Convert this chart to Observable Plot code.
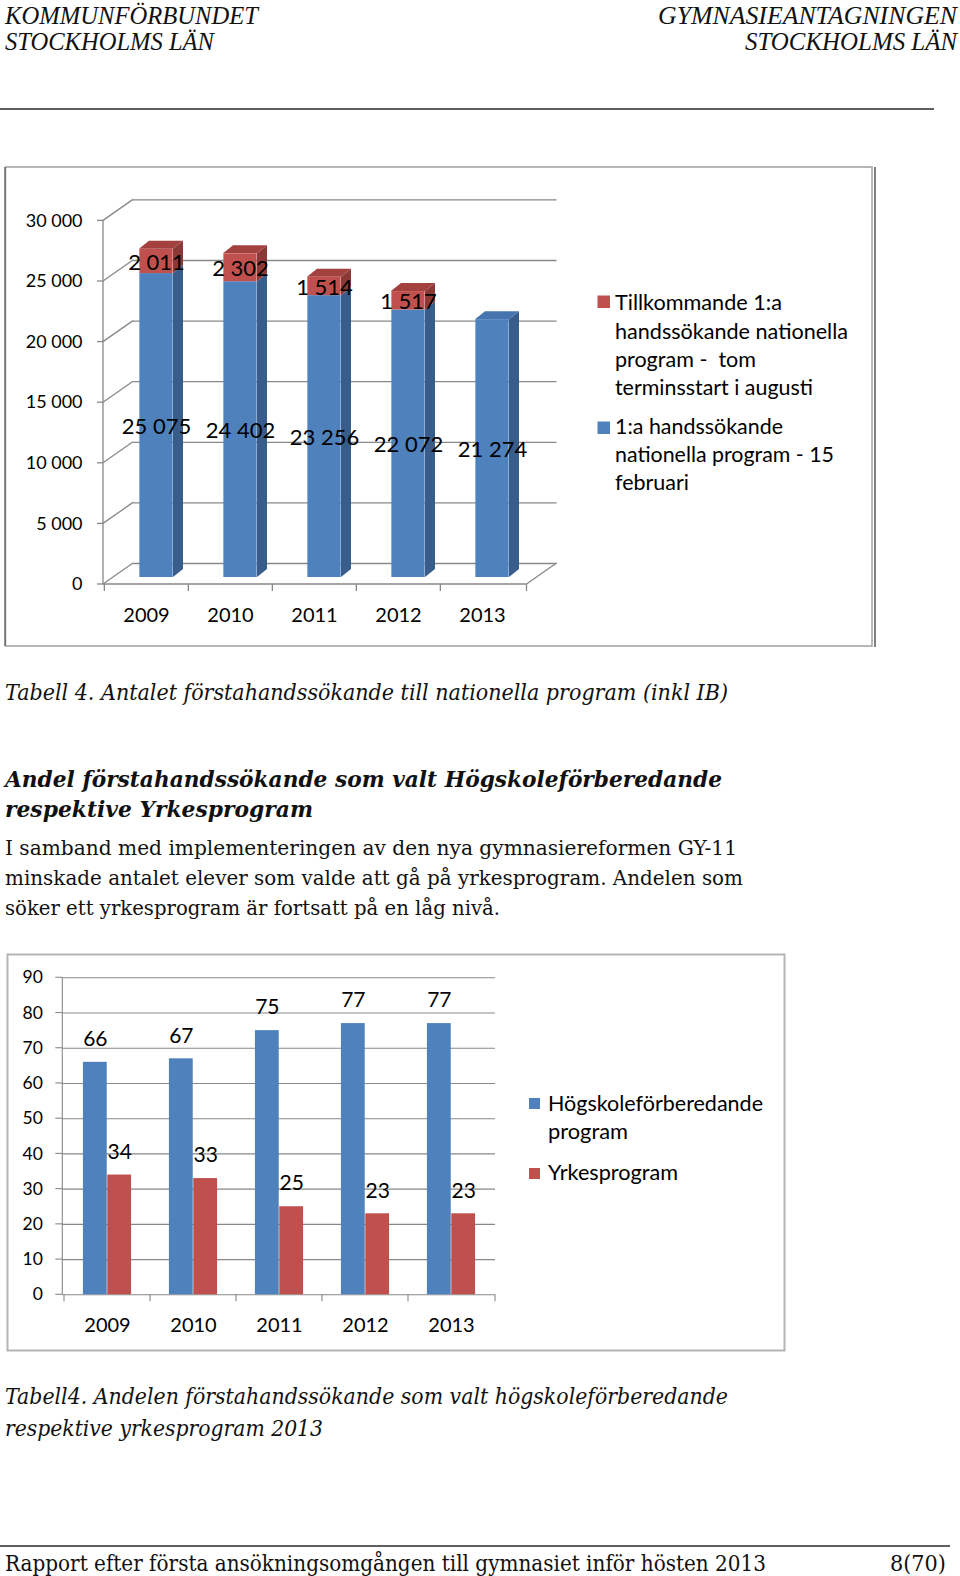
<!DOCTYPE html>
<html><head><meta charset="utf-8">
<script src="https://cdn.jsdelivr.net/npm/d3@7"></script>
<script src="https://cdn.jsdelivr.net/npm/@observablehq/plot@0.6"></script>
<style>
html,body{margin:0;padding:0;background:#fff;}
#page{position:relative;width:960px;height:1576px;overflow:hidden;background:#fff;}
.plotwrap{position:absolute;}
#overlay{position:absolute;left:0;top:0;pointer-events:none;}
</style></head><body><div id="page"></div>
<script>
// ---------- data ----------
const years = [2009, 2010, 2011, 2012, 2013];
const applicantsFeb15 = [25075, 24402, 23256, 22072, 21274];
const additionalAugust = [2011, 2302, 1514, 1517, null];
const seriesNames1 = ["1:a handssökande nationella program - 15 februari",
                      "Tillkommande 1:a handssökande nationella program -  tom terminsstart i augusti"];
const yTicks1 = [0, 5000, 10000, 15000, 20000, 25000, 30000];

const higherEdShare = [66, 67, 75, 77, 77];
const vocationalShare = [34, 33, 25, 23, 23];
const seriesNames2 = ["Högskoleförberedande program", "Yrkesprogram"];
const yTicks2 = [0, 10, 20, 30, 40, 50, 60, 70, 80, 90];

// ---------- style ----------
const BLUE = "#4f81bd", BLUE_SIDE = "#385d8a", BLUE_TOP = "#4674ae";
const RED = "#c0504d", RED_SIDE = "#8c3836", RED_TOP = "#a3413e";
const GRID = "#888888";
const SANS = "Lato, 'Open Sans', sans-serif";
const DOC_SERIF = "'DejaVu Serif', serif";
const HEAD_SERIF = "'Liberation Serif', serif";
const fmt = d3.formatLocale({decimal: ",", thousands: " ", grouping: [3], currency: ["", ""]}).format(",d");

const page = document.getElementById("page");
function mount(svg, left, top) {
  const d = document.createElement("div");
  d.className = "plotwrap"; d.style.left = left + "px"; d.style.top = top + "px";
  d.appendChild(svg); page.appendChild(d);
}
function seg(g, x1, y1, x2, y2) {
  g.append("line").attr("x1", x1).attr("y1", y1).attr("x2", x2).attr("y2", y2);
}

// ---------- chart 1 : 3D stacked columns ----------
const W1 = 870, H1 = 480;
const ML1 = 107.65, MR1 = 338.85, MT1 = 47.4, MB1 = 69;
const FRONT = {dx: -9.65, dy: 7}, BACK = {dx: 20.35, dy: -14}, DEPTH = {dx: 10, dy: -8};
const BAR1_W = 34;
const STEP1 = (W1 - ML1 - MR1) / years.length;
const INSET1 = (STEP1 - BAR1_W) / 2;

const rows1 = years.flatMap((year, i) => [
  {year, series: seriesNames1[0], base: 0, value: applicantsFeb15[i]},
  {year, series: seriesNames1[1], base: applicantsFeb15[i], value: additionalAugust[i]}
]).filter(d => d.value != null);

const walls1 = (index, {x, y}, values, {width, marginLeft, marginRight}) => {
  const g = d3.create("svg:g").attr("stroke", GRID).attr("stroke-width", 1.3).attr("fill", "none");
  const xl = marginLeft, xr = width - marginRight;
  const y0 = y(yTicks1[0]), yt = y(yTicks1[yTicks1.length - 1]);
  yTicks1.forEach(v => seg(g, xl + FRONT.dx, y(v) + FRONT.dy, xl + BACK.dx, y(v) + BACK.dy));
  seg(g, xr + FRONT.dx, y0 + FRONT.dy, xr + BACK.dx, y0 + BACK.dy);
  seg(g, xl + FRONT.dx, yt + FRONT.dy, xl + FRONT.dx, y0 + FRONT.dy);
  seg(g, xl + FRONT.dx, y0 + FRONT.dy, xr + FRONT.dx, y0 + FRONT.dy);
  yTicks1.forEach(v => seg(g, xl + FRONT.dx - 6, y(v) + FRONT.dy, xl + FRONT.dx, y(v) + FRONT.dy));
  [...years.map(yr => x(yr)), xr].forEach(px => seg(g, px + FRONT.dx, y0 + FRONT.dy, px + FRONT.dx, y0 + FRONT.dy + 7));
  return g.node();
};

const faces1 = (index, {x, y}) => {
  const g = d3.create("svg:g");
  const bw = x.bandwidth();
  years.forEach((yr, i) => {
    const x0 = x(yr) + (bw - BAR1_W) / 2, x1 = x0 + BAR1_W;
    const parts = [{lo: 0, hi: applicantsFeb15[i], side: BLUE_SIDE, top: BLUE_TOP}];
    if (additionalAugust[i] != null)
      parts.push({lo: applicantsFeb15[i], hi: applicantsFeb15[i] + additionalAugust[i], side: RED_SIDE, top: RED_TOP});
    parts.forEach(p => {
      const ya = y(p.lo), yb = y(p.hi);
      g.append("path").attr("fill", p.side)
        .attr("d", `M${x1},${yb}L${x1 + DEPTH.dx},${yb + DEPTH.dy}L${x1 + DEPTH.dx},${ya + DEPTH.dy}L${x1},${ya}Z`);
    });
    const last = parts[parts.length - 1], yt = y(last.hi);
    g.append("path").attr("fill", last.top)
      .attr("d", `M${x0},${yt}L${x0 + DEPTH.dx},${yt + DEPTH.dy}L${x1 + DEPTH.dx},${yt + DEPTH.dy}L${x1},${yt}Z`);
  });
  return g.node();
};

const chart1 = Plot.plot({
  width: W1, height: H1,
  marginLeft: ML1, marginRight: MR1, marginTop: MT1, marginBottom: MB1,
  style: {background: "transparent", fontFamily: SANS, overflow: "visible", color: "#000"},
  x: {type: "band", domain: years, padding: 0, axis: null},
  y: {domain: [yTicks1[0], yTicks1[yTicks1.length - 1]], axis: null},
  color: {domain: seriesNames1, range: [BLUE, RED]},
  marks: [
    Plot.ruleY(yTicks1, {y: d => d, dx: BACK.dx, dy: BACK.dy, stroke: GRID, strokeWidth: 1.3}),
    walls1,
    faces1,
    Plot.barY(rows1, {x: "year", y1: "base", y2: d => d.base + d.value, fill: "series", insetLeft: INSET1, insetRight: INSET1}),
    Plot.text(yTicks1, {y: d => d, text: d => fmt(d), frameAnchor: "left", textAnchor: "end", dx: -30.6, dy: FRONT.dy, fontSize: 18}),
    Plot.text(years, {x: d => d, text: d => String(d), frameAnchor: "bottom", dx: -10, dy: 38.5, fontSize: 20, lineAnchor: "middle"}),
    Plot.text(rows1, {x: "year", y: d => d.base + d.value / 2, text: d => fmt(d.value), fontSize: 22, lineAnchor: "middle", dy: 1.5})
  ]
});
mount(chart1, 5, 166);

// ---------- chart 2 : clustered columns ----------
const W2 = 778, H2 = 397;
const ML2 = 55.3, MR2 = 290, MT2 = 23.3, MB2 = 56.7;
const STEP2 = (W2 - ML2 - MR2) / years.length;
const BAR2_W = 24.35;

const rows2a = years.map((year, i) => ({year, series: seriesNames2[0], value: higherEdShare[i]}));
const rows2b = years.map((year, i) => ({year, series: seriesNames2[1], value: vocationalShare[i]}));

const axes2 = (index, {x, y}, values, {width, marginLeft, marginRight}) => {
  const g = d3.create("svg:g").attr("stroke", GRID).attr("stroke-width", 1.1).attr("fill", "none");
  const xl = marginLeft, xr = width - marginRight;
  const y0 = y(yTicks2[0]), yt = y(yTicks2[yTicks2.length - 1]);
  seg(g, xl, yt, xl, y0);
  yTicks2.forEach(v => seg(g, xl - 7, y(v), xl, y(v)));
  [...years.map(yr => x(yr)), xr].forEach(px => seg(g, px, y0, px, y0 + 7));
  return g.node();
};

const chart2 = Plot.plot({
  width: W2, height: H2,
  marginLeft: ML2, marginRight: MR2, marginTop: MT2, marginBottom: MB2,
  style: {background: "transparent", fontFamily: SANS, overflow: "visible", color: "#000"},
  x: {type: "band", domain: years, padding: 0, axis: null},
  y: {domain: [yTicks2[0], yTicks2[yTicks2.length - 1]], axis: null},
  color: {domain: seriesNames2, range: [BLUE, RED]},
  marks: [
    Plot.ruleY(yTicks2, {y: d => d, stroke: GRID, strokeWidth: 1.1}),
    axes2,
    Plot.barY(rows2a, {x: "year", y: "value", fill: "series", insetLeft: STEP2 / 2 - BAR2_W, insetRight: STEP2 / 2}),
    Plot.barY(rows2b, {x: "year", y: "value", fill: "series", insetLeft: STEP2 / 2, insetRight: STEP2 / 2 - BAR2_W}),
    Plot.text(rows2a, {x: "year", y: "value", text: d => String(d.value), dx: -BAR2_W / 2, dy: -23, fontSize: 21, lineAnchor: "middle"}),
    Plot.text(rows2b, {x: "year", y: "value", text: d => String(d.value), dx: BAR2_W / 2, dy: -23, fontSize: 21, lineAnchor: "middle"}),
    Plot.text(yTicks2, {y: d => d, text: d => String(d), frameAnchor: "left", textAnchor: "end", dx: -20, fontSize: 17.5}),
    Plot.text(years, {x: d => d, text: d => String(d), frameAnchor: "bottom", dy: 30.7, fontSize: 20, lineAnchor: "middle"})
  ]
});
mount(chart2, 7, 954);

// ---------- page overlay: header, boxes, legends, captions, footer ----------
const overlay = d3.select(page).append("svg").attr("id", "overlay").attr("width", 960).attr("height", 1576);
function txt(str, x, y, o) {
  const t = overlay.append("text").attr("x", x).attr("y", y).text(str)
    .attr("font-family", o.family).attr("font-size", o.size)
    .attr("font-style", o.style || "normal").attr("font-weight", o.weight || "normal")
    .attr("text-anchor", o.anchor || "start").attr("fill", o.fill || "#000")
    .style("white-space", "pre");
  if (o.width) t.attr("textLength", o.width).attr("lengthAdjust", "spacingAndGlyphs");
  return t;
}
function hline(x1, x2, y, stroke, w) {
  overlay.append("line").attr("x1", x1).attr("x2", x2).attr("y1", y).attr("y2", y).attr("stroke", stroke).attr("stroke-width", w);
}

// header
const HDR = {family: HEAD_SERIF, size: 25, style: "italic", fill: "#111"};
txt("KOMMUNFÖRBUNDET", 5, 24, {...HDR, width: 253});
txt("STOCKHOLMS LÄN", 5, 50, {...HDR, width: 209});
txt("GYMNASIEANTAGNINGEN", 957, 24, {...HDR, anchor: "end", width: 299});
txt("STOCKHOLMS LÄN", 957, 50, {...HDR, anchor: "end", width: 212});
hline(0, 934, 109, "#5f5f5f", 2);

// chart boxes
overlay.append("rect").attr("x", 5.5).attr("y", 167).attr("width", 866.5).attr("height", 479)
  .attr("fill", "none").attr("stroke", "#a0a0a0").attr("stroke-width", 1.5);
overlay.append("line").attr("x1", 875).attr("x2", 875).attr("y1", 167).attr("y2", 647).attr("stroke", "#555").attr("stroke-width", 1.5);
overlay.append("line").attr("x1", 5).attr("x2", 5).attr("y1", 167).attr("y2", 646).attr("stroke", "#555").attr("stroke-width", 1.2);
overlay.append("rect").attr("x", 7.5).attr("y", 954.5).attr("width", 777).attr("height", 396)
  .attr("fill", "none").attr("stroke", "#b5b5b5").attr("stroke-width", 2);

// legend chart 1
const LEG = {family: SANS, size: 20.5};
overlay.append("rect").attr("x", 597.5).attr("y", 295.5).attr("width", 12.5).attr("height", 12.5).attr("fill", RED);
overlay.append("rect").attr("x", 597.5).attr("y", 421.5).attr("width", 12.5).attr("height", 12.5).attr("fill", BLUE);
txt("Tillkommande 1:a", 615, 310, {...LEG, width: 167});
txt("handssökande nationella", 615, 338.5, {...LEG, width: 233});
txt("program -  tom", 615, 366.5, {...LEG, width: 141});
txt("terminsstart i augusti", 615, 395, {...LEG, width: 198});
txt("1:a handssökande", 615, 434, {...LEG, width: 168});
txt("nationella program - 15", 615, 462, {...LEG, width: 219});
txt("februari", 615, 490, {...LEG, width: 74});

// captions & body text
const CAP = {family: DOC_SERIF, size: 23, style: "italic", fill: "#111"};
txt("Tabell 4. Antalet förstahandssökande till nationella program (inkl IB)", 5, 700, {...CAP, width: 723});
const HEAD = {family: DOC_SERIF, size: 23, style: "italic", weight: "bold", fill: "#111"};
txt("Andel förstahandssökande som valt Högskoleförberedande", 5, 787, {...HEAD, width: 717});
txt("respektive Yrkesprogram", 5, 817, {...HEAD, width: 308});
const BODY = {family: DOC_SERIF, size: 20.5, fill: "#111"};
txt("I samband med implementeringen av den nya gymnasiereformen GY-11", 5, 855, {...BODY, width: 732});
txt("minskade antalet elever som valde att gå på yrkesprogram. Andelen som", 5, 885, {...BODY, width: 738});
txt("söker ett yrkesprogram är fortsatt på en låg nivå.", 5, 915, {...BODY, width: 495});

// legend chart 2
overlay.append("rect").attr("x", 529).attr("y", 1098).attr("width", 11).attr("height", 11).attr("fill", BLUE);
overlay.append("rect").attr("x", 529).attr("y", 1168).attr("width", 11).attr("height", 11).attr("fill", RED);
txt("Högskoleförberedande", 548, 1111, {...LEG, width: 215});
txt("program", 548, 1139, {...LEG, width: 80});
txt("Yrkesprogram", 548, 1180, {...LEG, width: 130});

txt("Tabell4. Andelen förstahandssökande som valt högskoleförberedande", 5, 1404, {...CAP, width: 723});
txt("respektive yrkesprogram 2013", 5, 1436, {...CAP, width: 318});

// footer
hline(0, 950, 1546, "#5f5f5f", 2);
const FOOT = {family: DOC_SERIF, size: 22, fill: "#111"};
txt("Rapport efter första ansökningsomgången till gymnasiet inför hösten 2013", 5, 1571, {...FOOT, width: 761});
txt("8(70)", 946, 1571, {...FOOT, anchor: "end", width: 56});
</script></body></html>
